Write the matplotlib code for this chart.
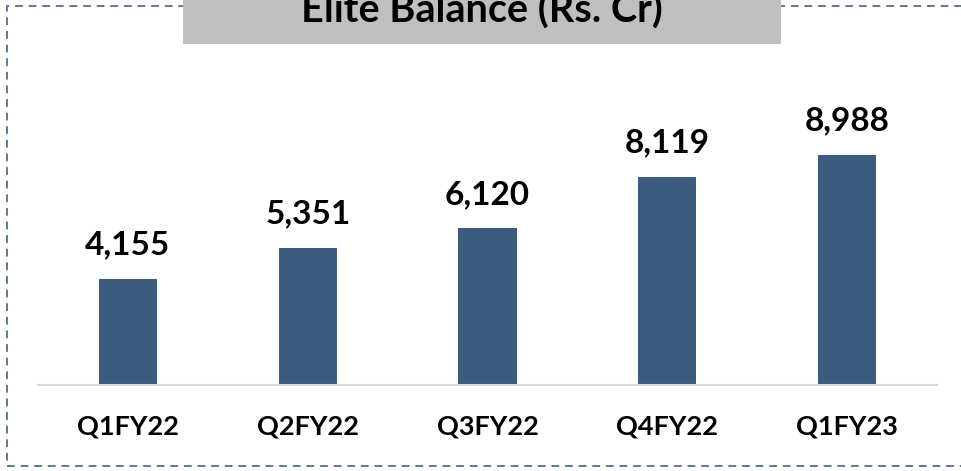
import matplotlib.pyplot as plt
from matplotlib.patches import Rectangle

# data
quarters = ['Q1FY22', 'Q2FY22', 'Q3FY22', 'Q4FY22', 'Q1FY23']
balance = [4155, 5351, 6120, 8119, 8988]
title = 'Elite Balance (Rs. Cr)'

W, H = 961, 471
BAR_COLOR = '#3C5C7F'
FONT = 'Lato'

fig = plt.figure(figsize=(W / 100, H / 100), dpi=100)

# dashed outer frame (right edge runs off the canvas)
frame = Rectangle((7 / W, (H - 466) / H), 1.2, (466 - 6) / H,
                  transform=fig.transFigure, fill=False,
                  edgecolor='#5B7B9B', linewidth=1.4, linestyle=(0, (4, 3)))
fig.patches.append(frame)

# grey title box, title text runs off the top edge
tbox = Rectangle((183 / W, (H - 44) / H), (781 - 183) / W, 44 / H + 0.01,
                 transform=fig.transFigure, facecolor='#BFBFBF',
                 edgecolor='none', zorder=3)
fig.patches.append(tbox)
fig.text(482 / W, (H - 23) / H, title, ha='center', va='baseline',
         fontsize=28.5, fontweight='bold', family=FONT, zorder=4)

# axes: baseline at y=385px, x range 38..937px
ax = fig.add_axes([38 / W, (H - 385) / H, (937 - 38) / W, (385 - 60) / H])
x = range(len(quarters))
bars = ax.bar(x, balance, width=0.323, color=BAR_COLOR)
ax.set_xlim(-0.5, 4.5)
ax.set_ylim(0, 8988 * (385 - 60) / (385 - 155))

for b, v in zip(bars, balance):
    ax.annotate(f'{v:,}', (b.get_x() + b.get_width() / 2, v),
                xytext=(0, 14), textcoords='offset points',
                ha='center', va='bottom', fontsize=24, fontweight='bold',
                family=FONT)

for s in ['top', 'right', 'left']:
    ax.spines[s].set_visible(False)
ax.spines['bottom'].set_color('#D9D9D9')
ax.spines['bottom'].set_linewidth(1.5)
ax.set_yticks([])
ax.set_xticks(list(x))
ax.set_xticklabels(quarters, fontsize=19.5, fontweight='bold', family=FONT)
ax.tick_params(axis='x', length=0, pad=21)

fig.savefig('out.png', dpi=100)
